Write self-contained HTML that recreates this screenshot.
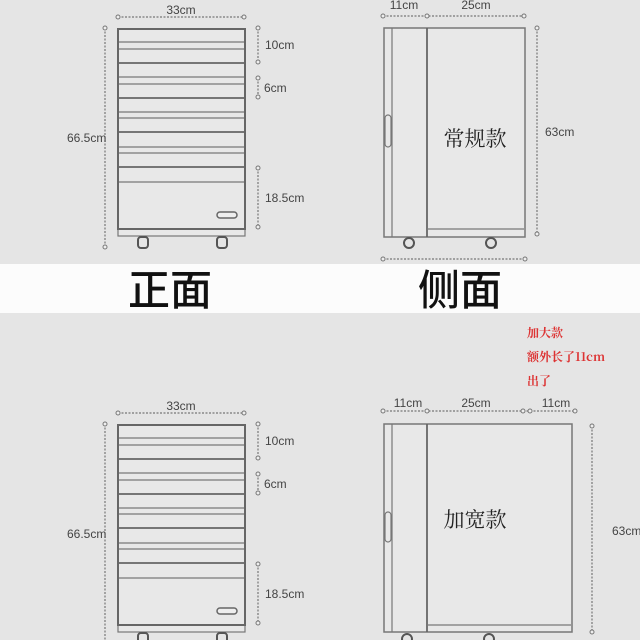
<!DOCTYPE html>
<html><head><meta charset="utf-8"><style>
html,body{margin:0;padding:0;background:#e5e5e5;}
svg{display:block}
text{font-family:"Liberation Sans","DejaVu Sans",sans-serif;fill:#444;font-size:12px}
.cjk{font-family:"Noto Serif CJK SC","Noto Sans CJK SC",serif;fill:#222;font-size:21px}
.big{font-family:"Noto Sans CJK SC",sans-serif;fill:#111;font-size:42px;font-weight:500}
.red{font-family:"Noto Serif CJK SC","Noto Sans CJK SC",serif;fill:#d33;font-size:12px;font-weight:bold}
.d{stroke:#777;stroke-width:1.2;stroke-dasharray:2 1.5;fill:none}
.c{fill:#eee;stroke:#777;stroke-width:1}
.o{fill:none;stroke:#666;stroke-width:2}
.l{stroke:#777;stroke-width:1.2}
.l2{stroke:#666;stroke-width:1.8}
</style></head><body>
<svg width="640" height="640" viewBox="0 0 640 640" xmlns="http://www.w3.org/2000/svg">
<rect width="640" height="640" fill="#e5e5e5"/>
<rect x="0" y="264" width="640" height="49" fill="#fcfcfc"/>
<text x="170" y="305" class="big" text-anchor="middle">正面</text>
<text x="460" y="305" class="big" text-anchor="middle">侧面</text>

<defs>
<g id="front">
  <text x="181" y="14" text-anchor="middle">33cm</text>
  <line x1="118" y1="17" x2="244" y2="17" class="d"/>
  <circle cx="118" cy="17" r="2" class="c"/><circle cx="244" cy="17" r="2" class="c"/>
  <line x1="105" y1="28" x2="105" y2="247" class="d"/>
  <circle cx="105" cy="28" r="2" class="c"/><circle cx="105" cy="247" r="2" class="c"/>
  <text x="67" y="142">66.5cm</text>
  <rect x="118" y="29" width="127" height="207" fill="#e8e8e8" stroke="#777" stroke-width="1.2"/>
  <rect x="118" y="29" width="127" height="200" class="o"/>
  <g class="l">
    <line x1="119" y1="42" x2="244" y2="42"/><line x1="119" y1="77" x2="244" y2="77"/>
    <line x1="119" y1="112" x2="244" y2="112"/><line x1="119" y1="147" x2="244" y2="147"/>
    <line x1="119" y1="182" x2="244" y2="182"/>
    <line x1="119" y1="49" x2="244" y2="49"/><line x1="119" y1="84" x2="244" y2="84"/>
    <line x1="119" y1="118" x2="244" y2="118"/><line x1="119" y1="153" x2="244" y2="153"/>
  </g>
  <g class="l2">
    <line x1="119" y1="63" x2="244" y2="63"/><line x1="119" y1="98" x2="244" y2="98"/>
    <line x1="119" y1="132" x2="244" y2="132"/><line x1="119" y1="167" x2="244" y2="167"/>
  </g>
  <rect x="217" y="212" width="20" height="6" rx="3" fill="#eee" stroke="#666" stroke-width="1.5"/>
  <rect x="138" y="237" width="10" height="11" rx="3" fill="none" stroke="#555" stroke-width="2"/>
  <rect x="217" y="237" width="10" height="11" rx="3" fill="none" stroke="#555" stroke-width="2"/>
  <line x1="258" y1="28" x2="258" y2="62" class="d"/><circle cx="258" cy="28" r="2" class="c"/><circle cx="258" cy="62" r="2" class="c"/>
  <text x="265" y="49">10cm</text>
  <line x1="258" y1="78" x2="258" y2="97" class="d"/><circle cx="258" cy="78" r="2" class="c"/><circle cx="258" cy="97" r="2" class="c"/>
  <text x="264" y="92">6cm</text>
  <line x1="258" y1="168" x2="258" y2="227" class="d"/><circle cx="258" cy="168" r="2" class="c"/><circle cx="258" cy="227" r="2" class="c"/>
  <text x="265" y="202">18.5cm</text>
</g>
</defs>
<use href="#front"/>
<use href="#front" transform="translate(0,396)"/>

<!-- side upper -->
<text x="404" y="9" text-anchor="middle">11cm</text>
<text x="476" y="9" text-anchor="middle">25cm</text>
<line x1="383" y1="16" x2="524" y2="16" class="d"/>
<circle cx="383" cy="16" r="2" class="c"/><circle cx="427" cy="16" r="2" class="c"/><circle cx="524" cy="16" r="2" class="c"/>
<rect x="384" y="28" width="141" height="209" fill="#e8e8e8" stroke="#777" stroke-width="1.5"/>
<line x1="392" y1="28" x2="392" y2="237" class="l"/>
<line x1="427" y1="28" x2="427" y2="237" class="l2"/>
<line x1="427" y1="229" x2="524" y2="229" class="l"/>
<rect x="385" y="115" width="6" height="32" rx="3" fill="none" stroke="#777" stroke-width="1.2"/>
<circle cx="409" cy="243" r="5" fill="none" stroke="#555" stroke-width="2"/>
<circle cx="491" cy="243" r="5" fill="none" stroke="#555" stroke-width="2"/>
<line x1="537" y1="28" x2="537" y2="234" class="d"/><circle cx="537" cy="28" r="2" class="c"/><circle cx="537" cy="234" r="2" class="c"/>
<text x="545" y="136">63cm</text>
<line x1="383" y1="259" x2="525" y2="259" class="d"/><circle cx="383" cy="259" r="2" class="c"/><circle cx="525" cy="259" r="2" class="c"/>
<text x="475" y="146" class="cjk" text-anchor="middle">常规款</text>

<!-- side lower -->
<text x="527" y="337" class="red">加大款</text>
<text x="527" y="361" class="red">额外长了11cm</text>
<text x="527" y="385" class="red">出了</text>
<text x="408" y="407" text-anchor="middle">11cm</text>
<text x="476" y="407" text-anchor="middle">25cm</text>
<text x="556" y="407" text-anchor="middle">11cm</text>
<line x1="383" y1="411" x2="575" y2="411" class="d"/>
<circle cx="383" cy="411" r="2" class="c"/><circle cx="427" cy="411" r="2" class="c"/><circle cx="523" cy="411" r="2" class="c"/><circle cx="530" cy="411" r="2" class="c"/><circle cx="575" cy="411" r="2" class="c"/>
<rect x="384" y="424" width="188" height="208" fill="#e8e8e8" stroke="#777" stroke-width="1.5"/>
<line x1="392" y1="424" x2="392" y2="632" class="l"/>
<line x1="427" y1="424" x2="427" y2="632" class="l2"/>
<line x1="427" y1="625" x2="571" y2="625" class="l"/>
<rect x="385" y="512" width="6" height="30" rx="3" fill="none" stroke="#777" stroke-width="1.2"/>
<circle cx="407" cy="639" r="5" fill="none" stroke="#555" stroke-width="2"/>
<circle cx="489" cy="639" r="5" fill="none" stroke="#555" stroke-width="2"/>
<line x1="592" y1="426" x2="592" y2="632" class="d"/><circle cx="592" cy="426" r="2" class="c"/><circle cx="592" cy="632" r="2" class="c"/>
<text x="612" y="535">63cm</text>
<text x="475" y="527" class="cjk" text-anchor="middle">加宽款</text>
</svg>
</body></html>
